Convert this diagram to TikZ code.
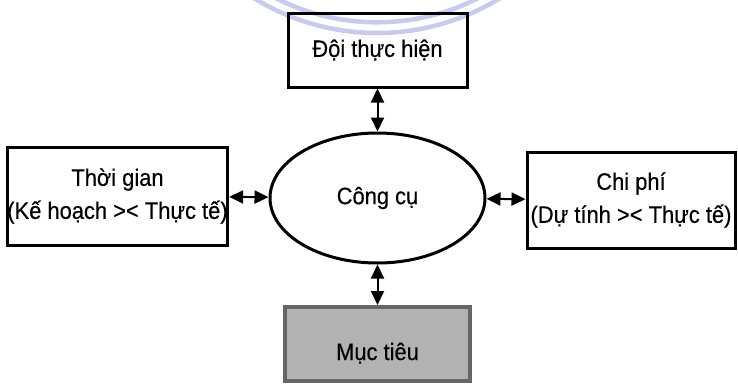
\documentclass[tikz,border=0pt]{standalone}
\usepackage{fontspec}
\setmainfont{Liberation Sans}[FakeStretch=0.92,FakeBold=0.35]
\usetikzlibrary{arrows.meta,shapes.geometric}
\definecolor{wmblue}{RGB}{200,202,238}
\begin{document}
\begin{tikzpicture}[x=1pt,y=-1pt,
  txt/.style={font=\fontsize{23.8}{33}\selectfont},
  box/.style={txt, draw, line width=3pt, inner sep=0pt, align=center},
  conn/.style={line width=2pt, {Triangle[length=14pt,width=13pt]}-{Triangle[length=14pt,width=13pt]}},
  wm/.style={draw=wmblue, line width=4.5pt}]
\useasboundingbox (0,0) rectangle (738,383);
% watermark arcs
\draw[wm] (377,-201.7) ++(58:234.7) arc[start angle=58,end angle=122,radius=234.7];
\draw[wm] (377,-201.7) ++(63:224) arc[start angle=63,end angle=117,radius=224];
% nodes
\node[box, minimum width=179pt, minimum height=74pt] (team) at (377.5,50) {Đội thực hiện};
\node[box, minimum width=219pt, minimum height=98pt] (time) at (117.5,196) {Thời gian\\(Kế hoạch >< Thực tế)};
\node[box, minimum width=208pt, minimum height=96pt] (cost) at (631,200) {Chi phí\\(Dự tính >< Thực tế)};
\node[txt, draw, ellipse, line width=3pt, minimum width=215pt, minimum height=130pt, inner sep=0pt] (tool) at (377.5,198) {Công cụ};
\node[box, draw=black!60, fill=black!30, line width=4pt, minimum width=185pt, minimum height=74pt, text height=32pt, text depth=0pt] (goal) at (377.5,344) {Mục tiêu};
% connectors
\draw[conn] (team) -- (tool);
\draw[conn] (time) -- (tool);
\draw[conn] (cost) -- (tool);
\draw[conn] (tool) -- (goal);
\end{tikzpicture}
\end{document}
